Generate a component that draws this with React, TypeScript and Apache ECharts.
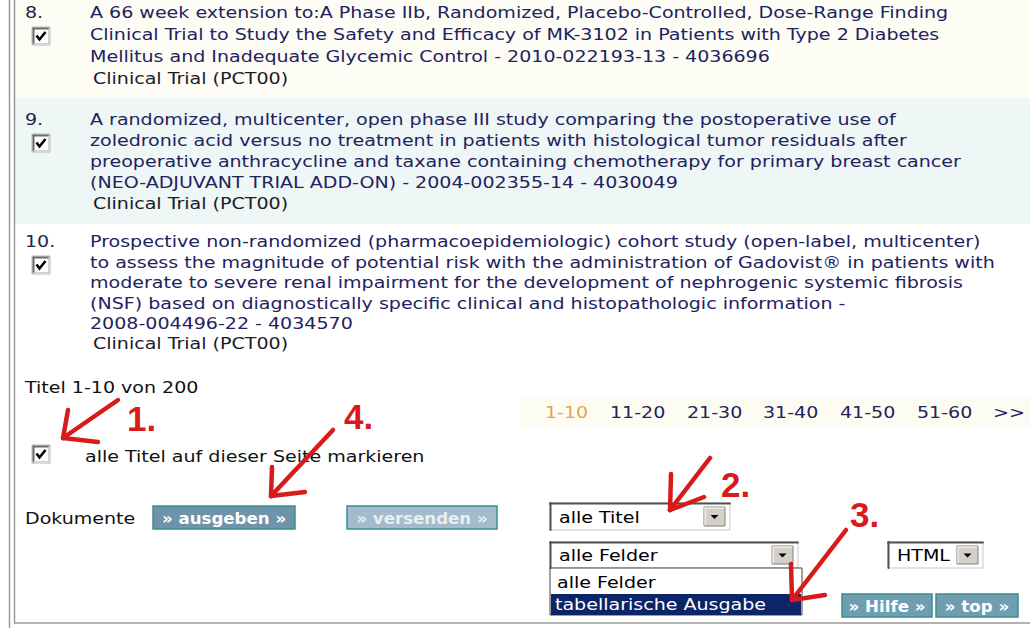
import React, { useEffect, useRef } from "react";
import * as echarts from "echarts";

const FONT = "'DejaVu Sans', Verdana, sans-serif";
const LINK = "#22225e";
const RED = "#d81a1a";
const SX = 1.19;

const entryNumbers = ["8.", "9.", "10."];
const entryLines: string[][] = [
  [
    "A 66 week extension to:A Phase IIb, Randomized, Placebo-Controlled, Dose-Range Finding",
    "Clinical Trial to Study the Safety and Efficacy of MK-3102 in Patients with Type 2 Diabetes",
    "Mellitus and Inadequate Glycemic Control - 2010-022193-13 - 4036696",
  ],
  [
    "A randomized, multicenter, open phase III study comparing the postoperative use of",
    "zoledronic acid versus no treatment in patients with histological tumor residuals after",
    "preoperative anthracycline and taxane containing chemotherapy for primary breast cancer",
    "(NEO-ADJUVANT TRIAL ADD-ON) - 2004-002355-14 - 4030049",
  ],
  [
    "Prospective non-randomized (pharmacoepidemiologic) cohort study (open-label, multicenter)",
    "to assess the magnitude of potential risk with the administration of Gadovist® in patients with",
    "moderate to severe renal impairment for the development of nephrogenic systemic fibrosis",
    "(NSF) based on diagnostically specific clinical and histopathologic information -",
    "2008-004496-22 - 4034570",
  ],
];
const entryType = "Clinical Trial (PCT00)";
const entryFirstLineY = [13, 120, 242];
const entryLineStep = [21.8, 21, 20.4];

const resultCount = "Titel 1-10 von 200";
const pageLinks = ["1-10", "11-20", "21-30", "31-40", "41-50", "51-60", ">>"];
const pageLinkX = [545, 610, 687, 763, 840, 917, 993];
const selectAllLabel = "alle Titel auf dieser Seite markieren";
const documentsLabel = "Dokumente";
const buttonLabels = ["» ausgeben »", "» versenden »", "» Hilfe »", "» top »"];
const selectTitles = "alle Titel";
const selectFields = "alle Felder";
const fieldOptions = ["alle Felder", "tabellarische Ausgabe"];
const formatLabel = "HTML";
const stepLabels = ["1.", "2.", "3.", "4."];

function txt(x: number, y: number, text: string, o: any = {}) {
  return {
    type: "text",
    x,
    y,
    scaleX: o.scaleX ?? SX,
    z: o.z ?? 10,
    silent: true,
    style: {
      text,
      fill: o.fill ?? LINK,
      fontSize: o.fontSize ?? 16,
      fontFamily: o.fontFamily ?? FONT,
      fontWeight: o.fontWeight ?? "normal",
      align: o.align ?? "left",
      verticalAlign: "middle",
      textAlign: o.align ?? "left",
      textVerticalAlign: "middle",
    },
  };
}

function rect(x: number, y: number, w: number, h: number, fill: string, stroke?: string, lw = 1, z = 2) {
  return {
    type: "rect",
    z,
    silent: true,
    shape: { x, y, width: w, height: h },
    style: { fill, stroke: stroke ?? "none", lineWidth: lw },
  };
}

function line(x1: number, y1: number, x2: number, y2: number, stroke: string, lw = 1, z = 3) {
  return {
    type: "line",
    z,
    silent: true,
    shape: { x1, y1, x2, y2 },
    style: { stroke, lineWidth: lw, lineCap: "round" },
  };
}

function checkbox(x: number, y: number) {
  return [
    rect(x, y, 18, 18, "#ffffff", "#b4b4b4", 1, 4),
    line(x + 1.5, y + 1.5, x + 16.5, y + 1.5, "#6a6a6a", 2, 5),
    line(x + 1.5, y + 1.5, x + 1.5, y + 16.5, "#6a6a6a", 2, 5),
    line(x + 16.5, y + 2, x + 16.5, y + 16.5, "#d0d0d0", 1, 5),
    line(x + 2, y + 16.5, x + 16.5, y + 16.5, "#d0d0d0", 1, 5),
    {
      type: "polyline",
      z: 6,
      silent: true,
      shape: { points: [[x + 4.5, y + 8.5], [x + 7.5, y + 12.5], [x + 13.5, y + 5]] },
      style: { stroke: "#000000", lineWidth: 2.6, fill: "none" },
    },
  ];
}

function dropBtn(x: number, y: number, w: number, h: number) {
  return [
    rect(x, y, w, h, "#d4d0c8", "#808080", 1, 5),
    line(x + 1, y + 1, x + w - 1, y + 1, "#ffffff", 1, 6),
    line(x + 1, y + 1, x + 1, y + h - 1, "#ffffff", 1, 6),
    {
      type: "polygon",
      z: 7,
      silent: true,
      shape: {
        points: [
          [x + w / 2 - 4, y + h / 2 - 1.5],
          [x + w / 2 + 4, y + h / 2 - 1.5],
          [x + w / 2, y + h / 2 + 2.5],
        ],
      },
      style: { fill: "#000000" },
    },
  ];
}

function selectBox(x: number, y: number, w: number, h: number, label: string) {
  return [
    rect(x, y, w, h, "#ffffff", "#c8c8c8", 1, 4),
    line(x, y + 0.5, x + w, y + 0.5, "#505050", 2, 5),
    line(x + 0.5, y, x + 0.5, y + h, "#505050", 2, 5),
    txt(x + 9, y + h / 2 + 1, label, { fill: "#000000", z: 8 }),
    ...dropBtn(x + w - 26, y + 4, 21, h - 8),
  ];
}

function button(x: number, y: number, w: number, h: number, label: string, fill: string, textFill: string) {
  return [
    rect(x, y, w, h, fill, "#3c8e8e", 1.5, 4),
    txt(x + w / 2, y + h / 2 + 1, label, {
      fill: textFill,
      fontWeight: "bold",
      fontSize: 16,
      scaleX: 1.04,
      align: "center",
      z: 8,
    }),
  ];
}

function arrow(fx: number, fy: number, tx: number, ty: number, h1: [number, number], h2: [number, number]) {
  return [
    line(fx, fy, tx, ty, RED, 4.5, 20),
    line(tx, ty, h1[0], h1[1], RED, 4.5, 20),
    line(tx, ty, h2[0], h2[1], RED, 4.5, 20),
  ];
}

function buildElements() {
  const els: any[] = [];
  // backgrounds
  els.push(rect(15, 0, 1015, 98, "#fdfdf6", undefined, 1, 0));
  els.push(rect(15, 98, 1015, 126, "#eef6f6", undefined, 1, 0));
  els.push(rect(520, 398, 510, 28, "#fdfcf2", undefined, 1, 0));
  // frame lines
  els.push(line(9.5, 0, 9.5, 628, "#9a9a9a", 1.5, 1));
  els.push(line(14.5, 0, 14.5, 623, "#9a9a9a", 1.5, 1));
  els.push(line(14.5, 623, 1030, 623, "#9a9a9a", 1.5, 1));

  // entries
  entryLines.forEach((lines, i) => {
    const y0 = entryFirstLineY[i];
    const step = entryLineStep[i];
    els.push(txt(25, y0, entryNumbers[i], { fill: "#222244" }));
    els.push(...checkbox(32, y0 + 14));
    lines.forEach((t, j) => els.push(txt(90, y0 + j * step, t)));
    els.push(txt(93, y0 + lines.length * step, entryType, { fill: "#1a1a2a" }));
  });

  // result count & pagination
  els.push(txt(25, 388, resultCount, { fill: "#111111" }));
  pageLinks.forEach((p, i) =>
    els.push(txt(pageLinkX[i], 413, p, { fill: i === 0 ? "#e3a64e" : LINK }))
  );

  // select all
  els.push(...checkbox(32, 445));
  els.push(txt(85, 457, selectAllLabel, { fill: "#111111" }));

  // documents row
  els.push(txt(25, 519, documentsLabel, { fill: "#111111" }));
  els.push(...button(153, 506, 142, 23, buttonLabels[0], "#6f93a9", "#ffffff"));
  els.push(...button(347, 506, 150, 23, buttonLabels[1], "#a3bbca", "#e8eff3"));

  // selects
  els.push(...selectBox(550, 503, 180, 27, selectTitles));
  els.push(...selectBox(550, 542, 248, 26, selectFields));
  els.push(...selectBox(888, 542, 95, 26, formatLabel));

  // dropdown list
  els.push(rect(550, 568, 252, 47, "#ffffff", "#404040", 1, 4));
  els.push(txt(557, 583, fieldOptions[0], { fill: "#000000", z: 8 }));
  els.push(rect(551, 594, 250, 21, "#0c2468", undefined, 1, 5));
  els.push(txt(555, 605, fieldOptions[1], { fill: "#ffffff", z: 8 }));

  // help / top
  els.push(...button(842, 594, 90, 23, buttonLabels[2], "#6f9db2", "#ffffff"));
  els.push(...button(936, 594, 82, 23, buttonLabels[3], "#6f9db2", "#ffffff"));

  // annotations
  const stepFont = { fill: RED, fontWeight: "bold", fontSize: 35, fontFamily: "'Liberation Sans', Arial, sans-serif", scaleX: 1, z: 21 };
  els.push(txt(127, 418, stepLabels[0], stepFont));
  els.push(txt(721, 484, stepLabels[1], stepFont));
  els.push(txt(850, 514, stepLabels[2], stepFont));
  els.push(txt(344, 416, stepLabels[3], stepFont));

  els.push(...arrow(118, 400, 63, 438, [68, 410], [98, 442]));
  els.push(...arrow(333, 430, 271, 496, [272, 467], [305, 492]));
  els.push(...arrow(710, 458, 670, 510, [671, 474], [704, 497]));
  els.push(...arrow(846, 530, 792, 600, [791, 564], [825, 595]));

  return els;
}

export default function App() {
  const ref = useRef<HTMLDivElement>(null);
  useEffect(() => {
    document.body.style.margin = "0";
    const chart = echarts.init(ref.current!, undefined, { renderer: "svg" });
    chart.setOption({
      animation: false,
      backgroundColor: "#ffffff",
      graphic: { elements: buildElements() },
    });
    return () => chart.dispose();
  }, []);
  return (
    <div
      ref={ref}
      style={{ position: "fixed", left: 0, top: 0, width: 1030, height: 628, background: "#fff" }}
    />
  );
}
